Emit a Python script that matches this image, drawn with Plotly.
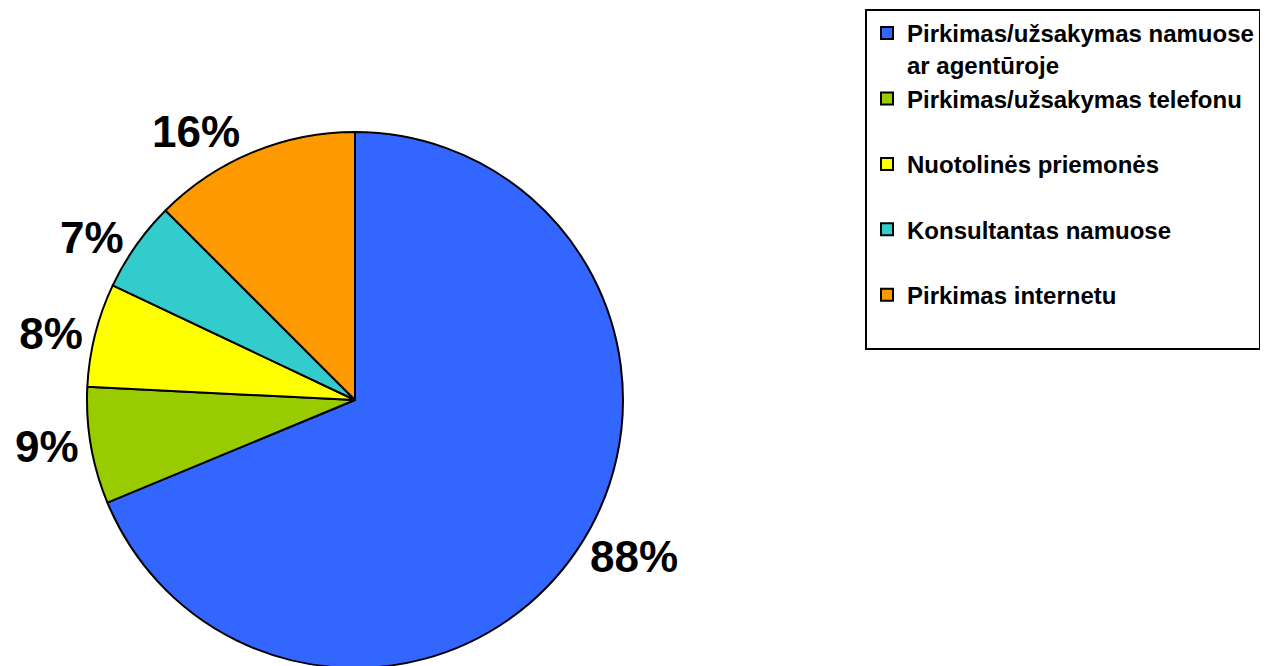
import plotly.graph_objects as go

categories = [
    "Pirkimas/užsakymas namuose<br>ar agentūroje",
    "Pirkimas/užsakymas telefonu<br> ",
    "Nuotolinės priemonės<br> ",
    "Konsultantas namuose<br> ",
    "Pirkimas internetu<br> ",
]
values = [88, 9, 8, 7, 16]
colors = ["#3366FF", "#99CC00", "#FFFF00", "#33CCCC", "#FF9900"]

FONT = "Arial, Liberation Sans, sans-serif"

fig = go.Figure(
    go.Pie(
        labels=categories,
        values=values,
        sort=False,
        direction="clockwise",
        rotation=0,
        marker=dict(colors=colors, line=dict(color="black", width=2)),
        textinfo="none",
        texttemplate="%{value}%",
        textposition="outside",
        outsidetextfont=dict(family=FONT, size=44, color="black", weight="bold"),
        domain=dict(x=[0.0623, 0.4850], y=[0.009, 0.8138]),
        hoverinfo="label+value",
    )
)

fig.update_layout(
    width=1268,
    height=666,
    margin=dict(l=0, r=0, t=0, b=0, autoexpand=False),
    paper_bgcolor="white",
    plot_bgcolor="white",
    showlegend=True,
    legend=dict(
        x=857 / 1268,
        xanchor="left",
        y=665 / 666,
        yanchor="top",
        bordercolor="black",
        borderwidth=2,
        bgcolor="white",
        valign="top",
        font=dict(family=FONT, size=24, color="black", weight="bold"),
    ),
)

fig.write_html("out.html")
